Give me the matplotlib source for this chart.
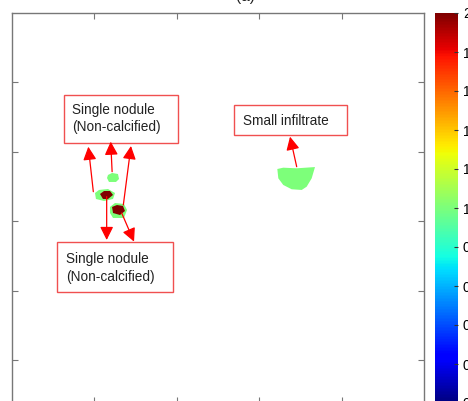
import numpy as np
import matplotlib
matplotlib.use('Agg')
import matplotlib.pyplot as plt
from matplotlib.collections import PolyCollection
from matplotlib.patches import Rectangle

plt.rcParams['font.family'] = ['Liberation Sans', 'DejaVu Sans']

# lesion outlines (image coords, x: 0-500, y: 0-562 downward) and their label value
green_top = [(116.5, 233.4), (121.4, 230.5), (128.6, 232.0), (129.9, 239.2), (126.2, 243.5), (117.7, 243.5), (115.3, 237.8)]
green_left = [(100.7, 259.4), (105.6, 255.0), (116.5, 253.6), (125.0, 259.4), (122.6, 268.0), (111.7, 270.9), (101.9, 268.0)]
core_left = [(106.8, 260.8), (111.7, 256.5), (118.9, 256.5), (122.6, 262.2), (116.5, 268.0), (110.4, 268.0)]
green_right = [(118.9, 279.5), (125.0, 273.8), (135.9, 275.2), (139.6, 283.9), (135.9, 295.4), (122.6, 295.4), (118.9, 288.2)]
core_right = [(121.4, 279.5), (127.4, 276.7), (134.7, 278.1), (137.1, 285.3), (131.1, 291.1), (122.6, 288.2)]
infiltrate = [(322.0, 224.8), (329.2, 222.9), (345.5, 223.8), (367.7, 222.0), (363.7, 238.2), (357.6, 250.3),
              (351.6, 255.0), (339.4, 254.0), (329.2, 247.8), (323.2, 238.2)]
blobs = [green_top, green_left, core_left, green_right, core_right, infiltrate]
blob_vals = [1.0, 1.0, 2.0, 1.0, 2.0, 1.0]

# text boxes: (x0, y0, x1, y1), label, text anchor
boxes = [((63.1, 118.2, 201.5, 187.3), 'Single nodule\n(Non-calcified)', (72.5, 152.0)),
         ((55.0, 330.0, 195.0, 402.0), 'Single nodule\n(Non-calcified)', (65.5, 367.4)),
         ((269.4, 132.6, 406.6, 175.8), 'Small infiltrate', (280.0, 155.6))]

# arrows: tail -> tip
arrows = [((98.7, 257.5), (92.6, 192.7)),
          ((121.5, 228.7), (119.8, 185.4)),
          ((135.1, 276.7), (144.4, 191.6)),
          ((114.9, 264.7), (114.9, 327.1)),
          ((133.1, 288.2), (148.1, 329.5)),
          ((345.5, 221.5), (337.4, 178.2))]

fig = plt.figure(figsize=(4.68, 4.01), dpi=100)
ax = fig.add_axes([12/468, -2/401, 412/468, 390/401])
cax = fig.add_axes([435/468, -2/401, 23/468, 390/401])

coll = PolyCollection(blobs, cmap='jet', edgecolors='none')
coll.set_array(np.array(blob_vals))
coll.set_clim(0, 2)
ax.add_collection(coll)

ax.set_xlim(0, 500)
ax.set_ylim(562, 0)
ax.set_xticks([100, 200, 300, 400])
ax.set_yticks([100, 200, 300, 400, 500])
ax.set_xticklabels([])
ax.set_yticklabels([])
ax.tick_params(direction='in', length=4, color='#777777', top=True, right=True)
for s in ax.spines.values():
    s.set_color('#777777')
    s.set_linewidth(1)

for (x0, y0, x1, y1), label, (tx, ty) in boxes:
    ax.add_patch(Rectangle((x0, y0), x1 - x0, y1 - y0, fill=True, facecolor='white',
                           edgecolor='#f05050', lw=1, zorder=3))
    ax.text(tx, ty, label, ha='left', va='center', fontsize=9.8, color='#222222',
            linespacing=1.35, zorder=4)

for tail, tip in arrows:
    ax.annotate('', xy=tip, xytext=tail,
                arrowprops=dict(arrowstyle='-|>', color='red', lw=0.9,
                                mutation_scale=20, shrinkA=0, shrinkB=0))

cb = fig.colorbar(coll, cax=cax)
cb.set_ticks(np.arange(0, 2.01, 0.2))
cb.set_ticklabels(['0', '0.2', '0.4', '0.6', '0.8', '1', '1.2', '1.4', '1.6', '1.8', '2'])
cax.tick_params(direction='in', length=3, color='#333333', labelsize=10)
cb.outline.set_visible(False)

fig.text(245/468, 1 - 1/401, '(a)', ha='center', va='baseline', fontsize=11, color='#222222')

fig.savefig('out.png', dpi=100)
